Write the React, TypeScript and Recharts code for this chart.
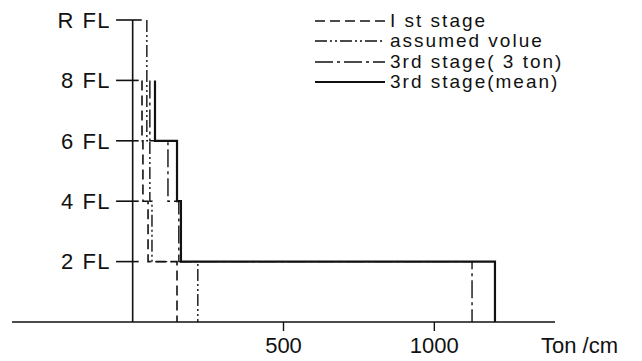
import React from 'react';
import { LineChart, Line, XAxis, YAxis, ReferenceLine, Legend } from 'recharts';

// storey boundaries, top to bottom (R FL counted as level 10)
const floorLevels = [10, 8, 6, 4, 2, 0];
const floorTicks = [10, 8, 6, 4, 2];
const floorLabels = ['R FL', '8 FL', '6 FL', '4 FL', '2 FL'];

// stiffness of each storey band (Ton/cm), top band first; null = no value
const firstStage = [null, 31, 34, 51, 147];
const assumedValue = [47, 47, 57, 64, 216];
const thirdStage3ton = [null, 57, 117, 153, 1125];
const thirdStageMean = [null, 74, 147, 160, 1201];

const xTicks = [500, 1000];

const INK = '#111';
const FONT = '"Liberation Sans", Arial, sans-serif';

type Pt = { x: number; y: number };

// turn per-band values into a stepped outline: a vertical run per band,
// joined by horizontal moves at the floor levels
const toSteps = (vals: (number | null)[]): Pt[] => {
  const pts: Pt[] = [];
  vals.forEach((v, i) => {
    if (v == null) return;
    pts.push({ x: v, y: floorLevels[i] });
    pts.push({ x: v, y: floorLevels[i + 1] });
  });
  return pts;
};

const series = [
  { name: 'I st stage', data: toSteps(firstStage), dash: '10 5', width: 1.6 },
  { name: 'assumed volue', data: toSteps(assumedValue), dash: '12 3 2 3 2 3', width: 1.4 },
  { name: '3rd stage( 3 ton)', data: toSteps(thirdStage3ton), dash: '18 4 3 4', width: 1.4 },
  { name: '3rd stage(mean)', data: toSteps(thirdStageMean), dash: undefined, width: 2.2 },
];

const UnitLabel = ({ viewBox }: any) => (
  <text
    x={viewBox.x + viewBox.width - 14}
    y={viewBox.y + 31}
    fontSize={22}
    fill={INK}
    fontFamily={FONT}
  >
    Ton /cm
  </text>
);

const LegendBox = () => (
  <div style={{ fontFamily: FONT, color: INK }}>
    {series.map((s) => (
      <div key={s.name} style={{ display: 'flex', alignItems: 'center', height: 20.3 }}>
        <svg width={72} height={8} style={{ display: 'block' }}>
          <line x1={1} y1={4} x2={71} y2={4} stroke={INK} strokeWidth={s.width} strokeDasharray={s.dash} />
        </svg>
        <span style={{ marginLeft: 4, fontSize: 19, letterSpacing: 2, whiteSpace: 'pre', lineHeight: '20px' }}>
          {s.name}
        </span>
      </div>
    ))}
  </div>
);

export default function App() {
  return (
    <div style={{ position: 'absolute', left: 0, top: 0, fontFamily: FONT, background: '#fff' }}>
      <LineChart width={642} height={361} margin={{ top: 20, right: 87, bottom: 9, left: 12 }}>
        <XAxis
          type="number"
          dataKey="x"
          domain={[-400, 1400]}
          ticks={xTicks}
          allowDataOverflow
          height={30}
          tickSize={9}
          tickMargin={6}
          axisLine={{ stroke: INK, strokeWidth: 1.6 }}
          tickLine={{ stroke: INK, strokeWidth: 1.4 }}
          tick={{ fontSize: 22, fill: INK, fontFamily: FONT }}
          label={<UnitLabel />}
        />
        <YAxis type="number" dataKey="y" domain={[0, 10]} hide />

        {/* vertical floor axis drawn at zero stiffness */}
        <ReferenceLine
          segment={[{ x: 0, y: 0 }, { x: 0, y: 10 }]}
          stroke={INK}
          strokeWidth={1.6}
        />
        {floorTicks.map((f, i) => (
          <ReferenceLine
            key={f}
            segment={[{ x: -55, y: f }, { x: i === 0 ? 30 : 20, y: f }]}
            stroke={INK}
            strokeWidth={1.6}
            label={{
              value: floorLabels[i],
              position: 'left',
              offset: 5,
              fontSize: 22,
              fill: INK,
              fontFamily: FONT,
              letterSpacing: 1.5,
            }}
          />
        ))}

        {series.map((s) => (
          <Line
            key={s.name}
            data={s.data}
            dataKey="y"
            name={s.name}
            type="linear"
            stroke={INK}
            strokeWidth={s.width}
            strokeDasharray={s.dash}
            dot={false}
            activeDot={false}
            isAnimationActive={false}
          />
        ))}

        <Legend
          layout="vertical"
          align="center"
          verticalAlign="middle"
          content={<LegendBox />}
          wrapperStyle={{ left: 314, top: 11, width: 300 }}
        />
      </LineChart>
    </div>
  );
}
